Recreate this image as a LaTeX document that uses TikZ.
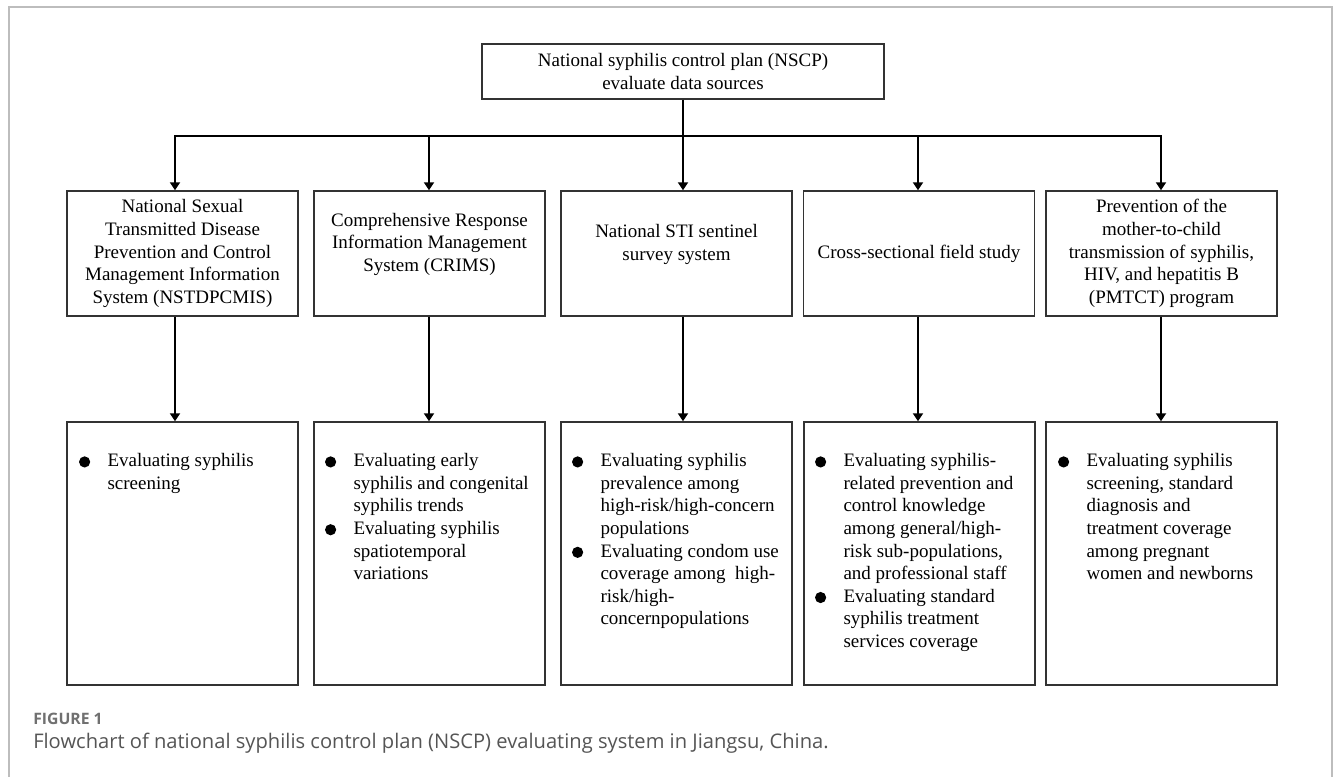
\documentclass[tikz,border=0pt]{standalone}
\usepackage{fontspec}
\setmainfont{Liberation Serif}
\newfontfamily\capfont{Open Sans}
\usetikzlibrary{arrows.meta,calc}
\definecolor{boxc}{HTML}{333333}
\definecolor{framec}{HTML}{BDBDBD}
\definecolor{figgray}{HTML}{707070}
\definecolor{capgray}{HTML}{555555}
\newcommand{\bitem}{\makebox[0pt][r]{\tikz[x=1pt,y=1pt,baseline=-3.6pt]\fill (0,0) circle (4.2pt);\hspace{13pt}}}
\begin{document}
\begin{tikzpicture}[x=0.75pt,y=-0.75pt,
  txt/.style={font=\fontsize{14.25pt}{16.95pt}\selectfont},
  upbox/.style={draw=boxc, line width=1.1pt, minimum width=173.25pt, minimum height=93.75pt, inner sep=0pt, align=center, txt},
  lowbox/.style={draw=boxc, line width=1.1pt, minimum width=173.25pt, minimum height=197.25pt, inner sep=0pt},
  bultext/.style={anchor=north west, inner sep=0pt, align=left, txt},
  conn/.style={line width=1.5pt, black},
  arr/.style={conn, -{Triangle[length=6pt,width=7.5pt]}}]
\useasboundingbox (0,0) rectangle (1333,776);
\fill[white] (0,0) rectangle (1333,776);
\draw[framec, line width=1.5pt] (9,790) -- (9,7) -- (1332,7) -- (1332,790);

% top box
\node[draw=boxc, line width=1.1pt, minimum width=301.5pt, minimum height=41.25pt, inner sep=0pt, align=center, txt] (top) at (683,71.5)
  {National syphilis control plan (NSCP)\\evaluate data sources};

% upper boxes
\node[upbox] (b1) at (182.5,253.5) {National Sexual\\Transmitted Disease\\Prevention and Control\\Management Information\\System (NSTDPCMIS)};
\node[upbox] (b2) at (429.5,253.5) {Comprehensive Response\\Information Management\\System (CRIMS)\\\mbox{}};
\node[upbox] (b3) at (676.5,253.5) {National STI sentinel\\survey system\\\mbox{}};
\node[upbox] (b4) at (919,253.5) {Cross-sectional field study};
\node[upbox] (b5) at (1161.5,253.5) {Prevention of the\\mother-to-child\\transmission of syphilis,\\HIV, and hepatitis B\\(PMTCT) program};

% lower boxes
\node[lowbox] (c1) at (182.5,553.5) {};
\node[lowbox] (c2) at (429.5,553.5) {};
\node[lowbox] (c3) at (676.5,553.5) {};
\node[lowbox] (c4) at (919.5,553.5) {};
\node[lowbox] (c5) at (1161.5,553.5) {};

\node[bultext] (t1) at ($(c1.north west)+(41,32)$) {\bitem Evaluating syphilis\\screening};
\node[bultext] (t2) at ($(c2.north west)+(40,32)$) {\bitem Evaluating early\\syphilis and congenital\\syphilis trends\\\bitem Evaluating syphilis\\spatiotemporal\\variations};
\node[bultext] (t3) at ($(c3.north west)+(40,32)$) {\bitem Evaluating syphilis\\prevalence among\\high-risk/high-concern\\populations\\\bitem Evaluating condom use\\coverage among\ \ high-\\risk/high-\\concernpopulations};
\node[bultext] (t4) at ($(c4.north west)+(40,32)$) {\bitem Evaluating syphilis-\\related prevention and\\control knowledge\\among general/high-\\risk sub-populations,\\and professional staff\\\bitem Evaluating standard\\syphilis treatment\\services coverage};
\node[bultext] (t5) at ($(c5.north west)+(41,32)$) {\bitem Evaluating syphilis\\screening, standard\\diagnosis and\\treatment coverage\\among pregnant\\women and newborns};

% connectors
\coordinate (j0) at (683,136);
\coordinate (j1) at (175,136);
\coordinate (j2) at (429,136);
\coordinate (j3) at (683,136);
\coordinate (j4) at (918,136);
\coordinate (j5) at (1161,136);
\draw[conn] (top.south -| j0) -- (j0);
\draw[conn, line cap=rect] (j1) -- (j5);
\foreach \i in {1,...,5}{
  \draw[arr] (j\i) -- (j\i |- b\i.north);
  \draw[arr] (j\i |- b\i.south) -- (j\i |- c\i.north);
}

% caption
\node[anchor=base west, inner sep=0pt, text=figgray, font=\capfont\bfseries\fontsize{11.8pt}{13pt}\selectfont] (figlbl) at (33,724) {FIGURE 1};
\node[anchor=base west, inner sep=0pt, text=capgray, font=\capfont\fontsize{15.1pt}{17pt}\selectfont] (cap) at (33,748) {Flowchart of national syphilis control plan (NSCP) evaluating system in Jiangsu, China.};
\end{tikzpicture}
\end{document}
